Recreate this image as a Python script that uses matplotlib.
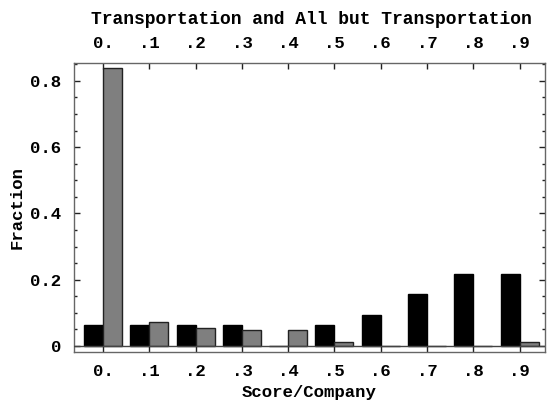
import matplotlib.pyplot as plt
import numpy as np

scores = ["0.", ".1", ".2", ".3", ".4", ".5", ".6", ".7", ".8", ".9"]
transport = [0.0625, 0.0625, 0.0625, 0.0625, 0.0, 0.0625, 0.095, 0.157, 0.218, 0.218]
all_but = [0.838, 0.072, 0.054, 0.049, 0.049, 0.013, 0.0, 0.0, 0.0, 0.011]

plt.rcParams['font.family'] = ['Liberation Mono', 'DejaVu Sans Mono']
plt.rcParams['font.weight'] = 'bold'
plt.rcParams['axes.labelweight'] = 'bold'
plt.rcParams['axes.titleweight'] = 'bold'
plt.rcParams['font.size'] = 12.5

fig = plt.figure(figsize=(5.48, 4.0), dpi=100)
ax = fig.add_axes([0.135, 0.12, 0.8595, 0.7225])

x = np.arange(len(scores))
w = 0.41
ax.bar(x - w / 2, transport, w, color='black', edgecolor='black', linewidth=1)
ax.bar(x + w / 2, all_but, w, color='#7f7f7f', edgecolor='#222222', linewidth=1)
ax.axhline(0, color='#444444', linewidth=1, zorder=3)

ax.set_xlim(-0.63, 9.55)
ax.set_ylim(-0.018, 0.854)
ax.set_xticks(x)
ax.set_xticklabels(scores)
ax.set_yticks([0, 0.2, 0.4, 0.6, 0.8])
ax.set_yticklabels(["0", "0.2", "0.4", "0.6", "0.8"])
ax.set_yticks(np.arange(0, 0.86, 0.05), minor=True)

ax.tick_params(axis='both', which='both', direction='in', color='#222222',
               top=True, right=True, labeltop=True, width=1)
ax.tick_params(axis='both', which='major', length=4, pad=9)
ax.tick_params(axis='y', which='minor', length=2)
ax.tick_params(axis='x', which='major', pad=9)

for s in ax.spines.values():
    s.set_color('#666666')
    s.set_linewidth(1)

ax.set_xlabel("Score/Company", labelpad=4, fontsize=12.5)
ax.set_ylabel("Fraction", labelpad=4, fontsize=12.5)
ax.set_title("Transportation and All but Transportation", pad=28, fontsize=13,
             x=0.505)

fig.savefig("out.png", dpi=100)
